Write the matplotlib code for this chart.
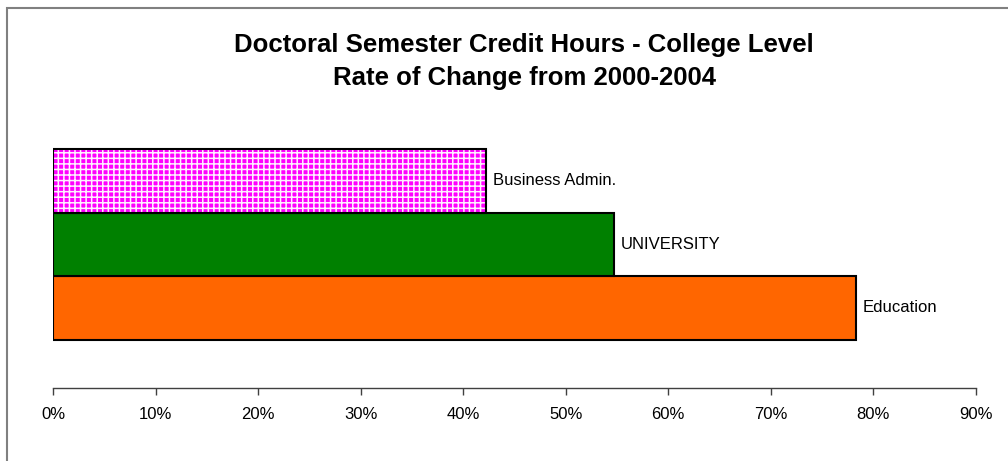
import matplotlib
matplotlib.use("Agg")
import matplotlib.pyplot as plt
from matplotlib.patches import Rectangle
from matplotlib.ticker import FuncFormatter

plt.rcParams['font.family'] = ['Liberation Sans', 'DejaVu Sans']
plt.rcParams['hatch.linewidth'] = 1.1

categories = ["Education", "UNIVERSITY", "Business Admin."]
values = [0.783, 0.547, 0.422]
colors = ["#FF6600", "#008000", "#FF00FF"]
hatches = [None, None, "+++"]
ticks = [0, 0.1, 0.2, 0.3, 0.4, 0.5, 0.6, 0.7, 0.8, 0.9]

fig = plt.figure(figsize=(10.08, 4.61), dpi=100)
ax = fig.add_axes([0.0529, 0.1584, 0.968 - 0.0529, 0.781 - 0.1584])

pos = list(range(len(categories)))
for p, v, c, h in zip(pos, values, colors, hatches):
    if h:
        ax.barh(p, v, height=1.0, color=c, edgecolor="#FFF0FF", hatch=h, linewidth=0, zorder=2)
        ax.barh(p, v, height=1.0, fill=False, edgecolor="black", linewidth=1.5, zorder=3)
    else:
        ax.barh(p, v, height=1.0, color=c, edgecolor="black", linewidth=1.5, zorder=2)
    ax.text(v + 0.007, p, categories[p], va="center", ha="left", fontsize=12, color="black")

ax.set_xlim(0, 0.9)
ax.set_ylim(-1.26, 3.26)
ax.set_xticks(ticks)
ax.xaxis.set_major_formatter(FuncFormatter(lambda x, _: f"{x*100:.0f}%"))
ax.set_yticks([])
for s in ["top", "right", "left"]:
    ax.spines[s].set_visible(False)
ax.spines["bottom"].set_color("#404040")
ax.spines["bottom"].set_linewidth(1.0)
ax.tick_params(axis="x", direction="out", length=5, width=1.0, color="#404040",
               labelsize=12, pad=9)
ax.patch.set_visible(False)

fig.text(0.52, 0.8666, "Doctoral Semester Credit Hours - College Level\nRate of Change from 2000-2004",
         ha="center", va="center", fontsize=18.5, fontweight="bold", linespacing=1.5)

fig.patches.append(Rectangle((7/1008, -0.1), 1.2, 1 - 8/461 + 0.1, transform=fig.transFigure,
                             fill=False, edgecolor="#808080", linewidth=1.5))

fig.savefig("out.png", dpi=100)
